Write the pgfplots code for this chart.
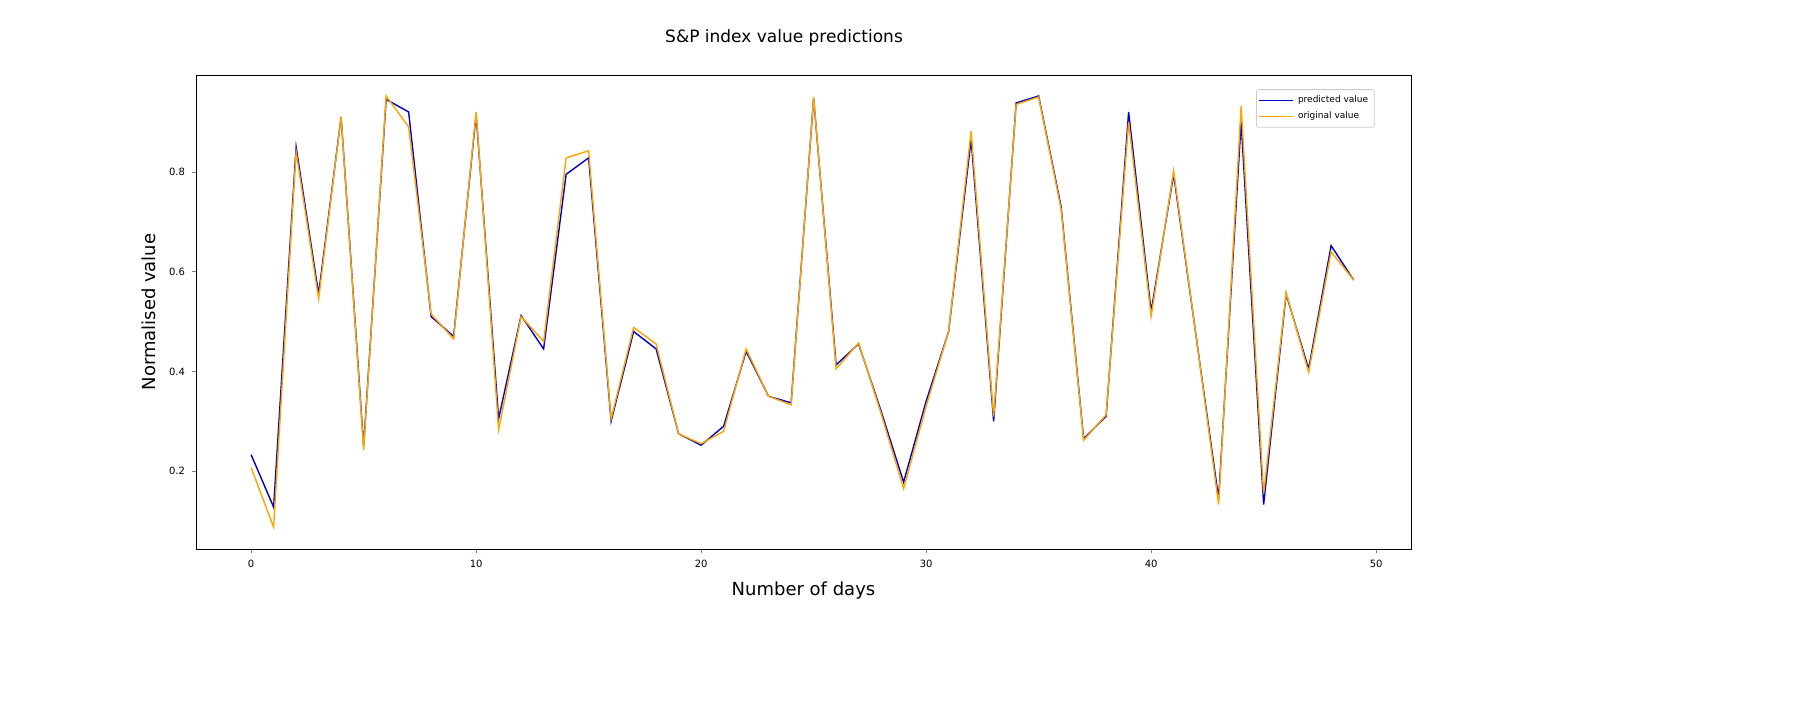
\documentclass[border=0pt]{standalone}
\usepackage{pgfplots}
\pgfplotsset{compat=1.18}
\usepackage{fontspec}
\setmainfont{DejaVu Sans}
\definecolor{mplorange}{RGB}{255,165,0}
\begin{document}
\begin{tikzpicture}
\node[font=\fontsize{8.5}{10}\selectfont] at (392pt,341pt) {S\&P index value predictions};
\begin{axis}[at={(98pt,85.5pt)},anchor=south west,scale only axis,
 width=607.5pt,height=237pt,
 xmin=-2.45,xmax=51.55,ymin=0.044,ymax=0.994,
 xtick={0,10,20,30,40,50},ytick={0.2,0.4,0.6,0.8},
 yticklabel style={/pgf/number format/fixed,/pgf/number format/precision=1},
 /pgf/number format/assume math mode=true,
 tick label style={font=\fontsize{5}{6}\selectfont},
 tick align=outside,tick pos=left,major tick length=2pt,
 xlabel={Number of days},ylabel={Normalised value},
 label style={font=\fontsize{9}{10}\selectfont},
 legend pos=north east,
 legend style={font=\fontsize{4.5}{5}\selectfont,draw=black!20,rounded corners=1pt,inner sep=1pt,row sep=-1pt},
 legend cell align=left]
\addplot[blue!80!black,line width=0.7pt,no marks] coordinates {
(0,0.233)(1,0.128)(2,0.85)(3,0.555)(4,0.91)(5,0.25)(6,0.945)(7,0.92)(8,0.51)(9,0.47)
(10,0.915)(11,0.305)(12,0.512)(13,0.445)(14,0.795)(15,0.828)(16,0.30)(17,0.48)(18,0.445)(19,0.275)
(20,0.252)(21,0.29)(22,0.44)(23,0.35)(24,0.337)(25,0.948)(26,0.413)(27,0.455)(28,0.32)(29,0.178)
(30,0.34)(31,0.48)(32,0.865)(33,0.30)(34,0.938)(35,0.952)(36,0.73)(37,0.265)(38,0.31)(39,0.92)
(40,0.52)(41,0.795)(42,0.47)(43,0.145)(44,0.90)(45,0.133)(46,0.555)(47,0.405)(48,0.652)(49,0.583)};
\addlegendentry{predicted value}
\addplot[mplorange,line width=0.7pt,no marks] coordinates {
(0,0.207)(1,0.088)(2,0.84)(3,0.545)(4,0.91)(5,0.243)(6,0.952)(7,0.89)(8,0.515)(9,0.465)
(10,0.92)(11,0.283)(12,0.51)(13,0.46)(14,0.828)(15,0.842)(16,0.305)(17,0.488)(18,0.455)(19,0.275)
(20,0.255)(21,0.28)(22,0.445)(23,0.35)(24,0.333)(25,0.95)(26,0.405)(27,0.457)(28,0.315)(29,0.165)
(30,0.33)(31,0.48)(32,0.882)(33,0.31)(34,0.935)(35,0.95)(36,0.725)(37,0.262)(38,0.313)(39,0.90)
(40,0.51)(41,0.802)(42,0.47)(43,0.133)(44,0.932)(45,0.155)(46,0.558)(47,0.398)(48,0.64)(49,0.583)};
\addlegendentry{original value}
\end{axis}
\pgfresetboundingbox
\useasboundingbox (0,0) rectangle (900pt,360pt);
\end{tikzpicture}
\end{document}
